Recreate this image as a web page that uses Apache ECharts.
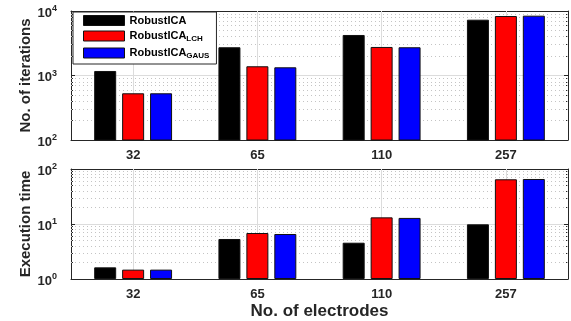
<!DOCTYPE html>
<html>
<head>
<meta charset="utf-8">
<script src="https://cdn.jsdelivr.net/npm/echarts@6/dist/echarts.min.js"></script>
<style>html,body{margin:0;padding:0;background:#fff;}#c{width:571px;height:321px;}</style>
</head>
<body>
<div id="c"></div>
<script>
const categories = ['32', '65', '110', '257'];
const seriesNames = ['RobustICA', 'RobustICA_LCH', 'RobustICA_GAUS'];
const iterRobust = [1175, 2740, 4250, 7330];
const iterLCH = [530, 1390, 2770, 8360];
const iterGAUS = [530, 1340, 2740, 8460];
const timeRobust = [1.63, 5.34, 4.57, 9.87];
const timeLCH = [1.48, 6.86, 13.2, 65];
const timeGAUS = [1.48, 6.58, 12.9, 65.8];
const iterMinor = [200, 300, 400, 500, 600, 700, 800, 900, 2000, 3000, 4000, 5000, 6000, 7000, 8000, 9000];
const timeMinor = [2, 3, 4, 5, 6, 7, 8, 9, 20, 30, 40, 50, 60, 70, 80, 90];
const iterRange = [100, 10000];
const timeRange = [1, 100];
const colors = ['#000000', '#ff0000', '#0000ff'];

const FONT = "'Liberation Sans', Arial, Helvetica, sans-serif";
const AX = '#262626';

function powLabel(v) {
  const e = Math.round(Math.log10(v));
  return '{b|10}{s|' + e + '}';
}
const powRich = {
  b: { fontFamily: FONT, fontWeight: 'bold', fontSize: 13, color: AX, lineHeight: 13, padding: [4, 0, 0, 0] },
  s: { fontFamily: FONT, fontWeight: 'bold', fontSize: 9, color: AX, verticalAlign: 'top', lineHeight: 9 }
};

function makeY(gi, range, name, pos) {
  const left = pos === 'left';
  return {
    type: 'log', logBase: 10, gridIndex: gi, min: range[0], max: range[1], position: pos,
    name: left ? name : '', nameLocation: 'middle', nameGap: 38, nameMoveOverlap: false,
    nameTextStyle: { fontFamily: FONT, fontWeight: 'bold', fontSize: 15, color: AX },
    axisLine: { show: true, lineStyle: { color: AX, width: 1 } },
    axisTick: { show: true, inside: true, length: 4, lineStyle: { color: AX } },
    minorTick: { show: true, splitNumber: 9, length: 2, lineStyle: { color: AX } },
    axisLabel: { show: left, formatter: powLabel, rich: powRich, margin: 14 },
    splitLine: { show: left, lineStyle: { color: '#dcdcdc', width: 1 } }
  };
}
function makeXBottom(gi, name) {
  return {
    type: 'category', gridIndex: gi, data: categories, position: 'bottom',
    name: name, nameLocation: 'middle', nameGap: 24, nameMoveOverlap: false,
    nameTextStyle: { fontFamily: FONT, fontWeight: 'bold', fontSize: 17, color: AX },
    axisLine: { show: true, lineStyle: { color: AX, width: 1 } },
    axisTick: { show: false },
    axisLabel: { fontFamily: FONT, fontWeight: 'bold', fontSize: 13, color: AX, margin: 9 },
    splitLine: { show: false }
  };
}
function makeXTop(gi) {
  return {
    type: 'category', gridIndex: gi, data: categories, position: 'top',
    axisLine: { show: true, lineStyle: { color: AX, width: 1 } },
    axisTick: { show: true, inside: true, alignWithLabel: true, length: 5, lineStyle: { color: AX } },
    axisLabel: { show: false }, splitLine: { show: false }
  };
}
function gridLines(xi, yi, minor) {
  return {
    type: 'line', xAxisIndex: xi, yAxisIndex: yi, data: [], silent: true, z: 1,
    markLine: {
      silent: true, symbol: 'none', z: 1, animation: false,
      label: { show: false },
      data: minor.map(v => ({ yAxis: v, lineStyle: { color: '#c4c4c4', type: [1, 3], width: 1 } }))
        .concat(categories.map(c => ({ xAxis: c, lineStyle: { color: '#dcdcdc', type: 'solid', width: 1 } })))
    }
  };
}
function bars(xi, yi, vals) {
  return vals.map((d, i) => ({
    name: seriesNames[i], type: 'bar', xAxisIndex: xi, yAxisIndex: yi, data: d, z: 3,
    barWidth: 22, barGap: '27%', clip: true,
    itemStyle: { color: colors[i], borderColor: '#111', borderWidth: 1 }
  }));
}

const chart = echarts.init(document.getElementById('c'), null, { renderer: 'canvas' });
chart.setOption({
  animation: false,
  backgroundColor: '#fff',
  grid: [
    { left: 71, right: 3, top: 11, height: 129 },
    { left: 71, right: 3, top: 169, height: 110 }
  ],
  xAxis: [makeXBottom(0, ''), makeXTop(0), makeXBottom(1, 'No. of electrodes'), makeXTop(1)],
  yAxis: [makeY(0, iterRange, 'No. of iterations', 'left'), makeY(0, iterRange, '', 'right'),
          makeY(1, timeRange, 'Execution time', 'left'), makeY(1, timeRange, '', 'right')],
  legend: {
    data: seriesNames, orient: 'vertical', left: 73, top: 12,
    itemWidth: 41, itemHeight: 10, itemGap: 3,
    padding: [3, 7, 4, 10],
    backgroundColor: '#fff', borderColor: AX, borderWidth: 1,
    icon: 'rect',
    itemStyle: { borderColor: '#111', borderWidth: 1 },
    formatter: function (n) {
      const p = n.split('_');
      return p.length > 1 ? '{n|' + p[0] + '}{u|' + p[1] + '}' : '{n|' + p[0] + '}';
    },
    textStyle: {
      rich: {
        n: { fontFamily: FONT, fontWeight: 'bold', fontSize: 11, color: '#000', lineHeight: 12 },
        u: { fontFamily: FONT, fontWeight: 'bold', fontSize: 8, color: '#000', lineHeight: 8, padding: [6, 0, 0, 0] }
      }
    }
  },
  series: [gridLines(0, 0, iterMinor), gridLines(2, 2, timeMinor)]
    .concat(bars(0, 0, [iterRobust, iterLCH, iterGAUS]))
    .concat(bars(2, 2, [timeRobust, timeLCH, timeGAUS]))
});
</script>
</body>
</html>
